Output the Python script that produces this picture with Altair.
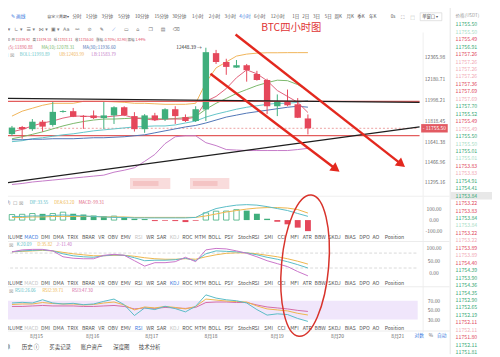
import altair as alt
import pandas as pd

W, H, OFF = 492, 349, 8
FONT = "Noto Sans CJK SC"
SYM = "DejaVu Sans"

GREEN = "#3fae7c"; RED = "#e5475b"
MA5_C = "#e0607a"; MA10_C = "#7ab86a"; MA30_C = "#4f74b6"
MID_C = "#62c4c8"; UB_C = "#f0b458"; LB_C = "#c479c8"
TEAL = "#58bcc6"; YEL = "#eeb54a"; PINK = "#d46aa6"
LINE_RED = "#e3281e"; BLUE = "#3d7be0"; GRAY = "#666666"; FADED = "#c4c4c4"
BUY = "#3aa876"; SELL = "#e04a5e"; BUY_F = "#a9dcc5"; SELL_F = "#f1aab6"

# ---------------- data ----------------
candle_idx = list(range(1, 31))
opens = [11705.7, 11767.3, 11748.0, 11812.0, 11784.2, 11896.0, 11902.2, 11861.0, 11866.0, 11843.2,
         11866.0, 11935.9, 11860.1, 11748.0, 11866.0, 11832.2, 11919.0, 11851.6, 11817.9, 11916.6,
         12399.7, 12323.8, 12275.7, 12296.0, 12220.0, 12169.5, 11944.4, 11986.5, 11961.3, 11839.92]
closes = [11761.4, 11748.0, 11812.0, 11769.8, 11896.3, 11904.0, 11854.2, 11853.0, 11843.2, 11866.0,
          11935.9, 11868.5, 11748.0, 11866.0, 11826.3, 11919.0, 11860.1, 11817.9, 11919.0, 12408.0,
          12323.8, 12281.7, 12296.0, 12253.8, 12169.5, 11944.4, 11986.5, 11952.8, 11845.7, 11755.50]
highs = [11775.7, 11775.7, 11834.8, 11826.3, 11986.5, 11910.7, 11930.0, 11868.5, 11908.2, 11986.5,
         11944.4, 11944.4, 11893.8, 11877.0, 11887.9, 11927.5, 11944.4, 11874.4, 11944.4, 12446.0,
         12427.5, 12351.6, 12340.7, 12307.0, 12248.0, 12180.5, 12045.6, 12087.7, 12014.4, 11874.10]
lows = [11691.4, 11666.1, 11733.6, 11725.1, 11769.8, 11889.6, 11851.6, 11750.5, 11834.8, 11750.5,
        11792.6, 11860.1, 11727.7, 11716.7, 11817.9, 11817.9, 11792.6, 11809.4, 11809.4, 11817.9,
        12307.0, 12214.0, 12273.2, 12155.2, 12163.6, 11877.0, 11860.1, 11944.4, 11843.2, 11703.11]

ma5 = [11725.1, 11746.2, 11775.7, 11801.0, 11817.9, 11843.2, 11860.1, 11860.1, 11855.8, 11851.6,
       11860.1, 11868.5, 11843.2, 11834.8, 11826.3, 11834.8, 11834.8, 11834.8, 11851.6, 11986.5,
       12028.7, 12096.1, 12188.9, 12256.4, 12222.6, 12163.6, 12079.3, 12028.7, 11978.1, 11890.88]
ma10 = [11666.1, 11683.0, 11704.0, 11725.1, 11750.4, 11775.7, 11796.8, 11813.7, 11826.3, 11834.8,
        11834.8, 11839.0, 11843.2, 11843.2, 11839.0, 11834.8, 11839.0, 11847.4, 11855.8, 11919.1,
        11969.7, 12011.8, 12054.0, 12087.7, 12121.4, 12146.7, 12167.8, 12163.6, 12129.9, 12078.31]
ma30 = [11657.7, 11657.7, 11661.9, 11661.9, 11666.1, 11666.1, 11666.1, 11670.3, 11674.5, 11674.5,
        11678.7, 11683.0, 11691.4, 11699.8, 11716.7, 11733.6, 11750.4, 11767.3, 11779.9, 11801.0,
        11826.3, 11851.6, 11868.5, 11885.3, 11898.0, 11910.7, 11923.3, 11935.9, 11944.4, 11936.60]
boll_mid = [11640.8, 11649.2, 11666.1, 11674.5, 11687.2, 11699.8, 11708.3, 11720.9, 11733.6, 11742.0,
            11750.4, 11758.9, 11767.3, 11771.5, 11775.7, 11775.7, 11784.2, 11801.0, 11817.9, 11851.6,
            11876.9, 11898.0, 11919.1, 11935.9, 11948.6, 11961.2, 11969.7, 11969.7, 11978.1, 11993.89]
boll_ub = [11860.1, 11902.2, 11927.5, 11952.8, 11969.7, 11969.7, 11969.7, 11986.5, 11986.5, 11986.5,
           11982.3, 11978.1, 11969.7, 11969.7, 11965.4, 11961.2, 11961.2, 11961.2, 11969.7, 12146.7,
           12273.2, 12323.8, 12374.4, 12391.3, 12399.7, 12403.0, 12403.0, 12404.0, 12404.0, 12403.99]
boll_lb = [11274.0, 11282.4, 11295.1, 11303.5, 11311.9, 11320.4, 11328.8, 11337.2, 11345.7, 11354.1,
           11379.4, 11396.3, 11417.3, 11472.1, 11531.2, 11623.9, 11683.0, 11691.4, 11691.4, 11632.4,
           11607.1, 11573.3, 11569.1, 11564.9, 11564.9, 11564.9, 11564.9, 11564.9, 11573.3, 11583.79]

price_ticks = [12365.98, 12180.71, 11998.21, 11818.45, 11641.38, 11466.96, 11295.16]
last_price = 11755.50
peak_label = "12448.39 →"

# drawn lines: (start index, start price, end index, end price)
arrow_upper = [22.91, 12559.9, 39.05, 11455.3]
arrow_lower = [20.45, 12222.6, 32.63, 11413.2]
trend_black = [0.34, 11286.7, 40.94, 11767.3]
flat_black = [0.34, 12011.8, 40.94, 11978.1]
flat_red_hi = [0.34, 11986.5, 40.94, 11986.5]
flat_red_lo = [0.34, 11693.0, 40.94, 11693.0]
line_end_idx = 40.75

macd_hist = [50, 52, 59, 56, 59, 71, 56, 50, 41, 35, 36, 27, 12, 9, -9, -6, -9, -18, -6, 65,
             80, 81, 94, 85, 56, 12, -15, -38, -68, -99.31]
dif = [32.7, 32.7, 37.2, 37.2, 41.6, 46.0, 41.6, 37.2, 32.7, 28.3, 23.9, 23.9, 19.5, 19.5, 19.5,
       19.5, 19.5, 19.5, 23.9, 68.1, 103.5, 121.2, 134.5, 138.9, 134.5, 121.2, 103.5, 85.8, 59.3, 33.55]
dea = [23.9, 23.9, 28.3, 28.3, 32.7, 32.7, 32.7, 32.7, 32.7, 28.3, 28.3, 28.3, 23.9, 23.9, 23.9,
       23.9, 23.9, 23.9, 23.9, 37.2, 54.9, 72.6, 85.8, 99.1, 108.0, 112.4, 112.4, 108.0, 94.7, 63.2]
macd_ticks = ["100.00", "0.00", "-100.00"]
macd_tick_vals = [100, 0, -100]

k_line = [85.0, 88.9, 90.9, 92.9, 88.9, 77.1, 69.2, 65.2, 63.2, 69.2, 73.1, 71.1, 61.3, 49.4, 51.4,
          51.4, 53.4, 59.3, 49.4, 77.1, 88.9, 87.0, 85.0, 81.0, 73.1, 63.2, 55.3, 45.5, 33.6, 20.09]
d_line = [85.0, 87.0, 88.9, 90.9, 88.9, 83.0, 77.1, 73.1, 69.2, 69.2, 71.1, 71.1, 67.2, 61.3, 57.3,
          55.3, 55.3, 57.3, 55.3, 65.2, 73.1, 79.1, 81.0, 81.0, 77.1, 71.1, 65.2, 57.3, 47.4, 35.82]
j_line = [85.0, 92.9, 94.9, 94.9, 88.9, 65.2, 59.3, 57.3, 57.3, 71.1, 75.1, 71.1, 49.4, 27.7, 41.5,
          41.5, 45.5, 63.2, 45.5, 92.9, 98.8, 96.8, 88.9, 79.1, 65.2, 49.4, 37.5, 25.7, 5.9, -11.4]
kdj_ticks = ["100.00", "50.00", "0.00"]
kdj_tick_vals = [100, 50, 0]
kdj_guides = [80, 20]

rsi1 = [65.4, 66.8, 65.4, 72.3, 65.4, 63.3, 64.7, 61.8, 63.3, 68.9, 73.8, 61.8, 38.6, 54.8, 51.3,
        58.4, 53.4, 46.4, 58.4, 82.8, 75.9, 72.3, 70.2, 65.4, 51.3, 39.5, 42.2, 40.7, 32.3, 26.06]
rsi2 = [62.2, 63.3, 63.3, 66.4, 64.3, 63.3, 63.3, 61.2, 62.2, 65.4, 67.5, 61.2, 50.6, 56.9, 54.8,
        58.0, 55.9, 52.7, 58.0, 73.8, 71.7, 69.6, 68.5, 67.5, 59.1, 52.7, 50.6, 48.5, 43.3, 39.71]
rsi3 = [58.0, 58.0, 59.1, 60.1, 59.1, 59.1, 59.1, 58.0, 58.0, 59.1, 60.1, 58.0, 52.7, 54.8, 53.8,
        55.9, 54.8, 53.8, 55.9, 66.4, 67.5, 67.5, 66.4, 66.4, 61.2, 56.9, 54.8, 52.7, 49.6, 47.3]
rsi_ticks = ["70.00", "50.00", "30.00"]
rsi_tick_vals = [70, 50, 30]
rsi_band = [30, 70]

date_labels = ["8月15", "8月16", "8月17", "8月18", "8月19", "8月20", "8月21"]
date_pos = [3.4, 8.9, 14.7, 20.5, 27.0, 32.9, 38.8]

book_prices = [11755.50, 11755.50, 11755.49, 11756.91, 11757.26, 11757.26, 11757.26, 11757.26,
               11757.36, 11757.69, 11757.69, 11757.70, 11755.52, 11755.49, 11755.49, 11755.50,
               11755.50, 11755.01, 11755.01, 11753.83, 11753.83, 11754.91, 11754.41, 11753.84,
               11753.22, 11753.83, 11753.84, 11753.84, 11753.22, 11753.22, 11753.89, 11753.89,
               11754.40, 11754.39, 11753.90, 11754.36, 11754.35, 11752.90, 11752.65, 11752.19,
               11752.11, 11752.11, 11751.80, 11752.11, 11751.81]
book_sides = list("BBSBSSSSSSSBBSSBBBBSSBBBSSBBSSSSSBBBBBBBSSSBB")
book_current_row = 24

tabs = ["VOLUME", "MACD", "DMI", "DMA", "TRIX", "BRAR", "VR", "OBV", "EMV", "RSI", "WR", "SAR",
        "KDJ", "ROC", "MTM", "BOLL", "PSY", "StochRSI", "SMI", "CCI", "MFI", "ATR", "BBW", "SKDJ",
        "BIAS", "DPO", "AO", "Position"]

# ---------------- scales ----------------
per = 29 / (314.1 - 7)


def idx_of(page_x):
    return 1 + (page_x - 7) * per


XS = alt.Scale(domain=[idx_of(OFF), idx_of(OFF + W)], nice=False, zero=False)


def ydom(v_a, py_a, v_b, py_b):
    k = (v_b - v_a) / (py_b - py_a)
    return alt.Scale(domain=[v_a + (OFF + H - py_a) * k, v_a + (OFF - py_a) * k], nice=False, zero=False)


PS = ydom(12365.98, 55, 11295.16, 182)
MS = ydom(100, 209.4, -100, 232)
KS = ydom(100, 249.2, 0, 274.5)
RS = ydom(70, 302.8, 30, 321.8)
BS = ydom(1, 21.7, 45, 355)


def X(f):
    return alt.X(f"{f}:Q", scale=XS, axis=None)


def Y(f, s):
    return alt.Y(f"{f}:Q", scale=s, axis=None)


EMPTY = alt.Data(values=[{}])
L = []


def T(text, x, y, color=GRAY, size=4.8, align="left", font=FONT, weight="normal"):
    L.append(alt.Chart(EMPTY).mark_text(text=text, align=align, baseline="middle", fontSize=size,
                                         font=font, color=color, fontWeight=weight)
             .encode(x=alt.value(x - OFF), y=alt.value(y - OFF)))


def HR(y, x0, x1, color="#ececec", width=1):
    L.append(alt.Chart(EMPTY).mark_rule(color=color, strokeWidth=width)
             .encode(x=alt.value(x0 - OFF), x2=alt.value(x1 - OFF), y=alt.value(y - OFF)))


def VR(x, y0, y1, color="#ececec", width=1):
    L.append(alt.Chart(EMPTY).mark_rule(color=color, strokeWidth=width)
             .encode(x=alt.value(x - OFF), y=alt.value(y0 - OFF), y2=alt.value(y1 - OFF)))


def series(vals, scale, color, width=1.0):
    df = pd.DataFrame({"i": candle_idx, "v": vals})
    L.append(alt.Chart(df).mark_line(color=color, strokeWidth=width).encode(x=X("i"), y=Y("v", scale)))


def seg(s, scale, color, width, dash=None):
    df = pd.DataFrame({"i": [s[0], s[2]], "v": [s[1], s[3]]})
    kw = dict(color=color, strokeWidth=width)
    if dash:
        kw["strokeDash"] = dash
    L.append(alt.Chart(df).mark_line(**kw).encode(x=X("i"), y=Y("v", scale)))


# ---------------- panel frames ----------------
VR(430, 30, 335, "#efefef")
VR(457.5, 0, 357, "#e4e4e4")
HR(196.5, 0, 457, "#efefef")
HR(242.5, 0, 457, "#ececec")
HR(288.5, 0, 457, "#ececec")
HR(333.5, 0, 457, "#ececec")

# RSI band
band_df = pd.DataFrame({"i0": [idx_of(0)], "i1": [idx_of(428)], "lo": [rsi_band[0]], "hi": [rsi_band[1]]})
L.append(alt.Chart(band_df).mark_rect(color="#f0e6fb").encode(
    x=X("i0"), x2="i1", y=Y("lo", RS), y2="hi"))

# KDJ dashed guides
gdf = pd.DataFrame({"i0": [idx_of(0)] * 2, "i1": [idx_of(428)] * 2, "v": kdj_guides})
L.append(alt.Chart(gdf).mark_rule(color="#d0d0d0", strokeDash=[3, 2], strokeWidth=0.8).encode(
    x=X("i0"), x2="i1", y=Y("v", KS)))

# blurred watermark patches
for x0, x1 in [(132, 173), (193, 233)]:
    L.append(alt.Chart(EMPTY).mark_rect(color="#f9dcdc").encode(
        x=alt.value(x0 - OFF), x2=alt.value(x1 - OFF), y=alt.value(178 - OFF), y2=alt.value(189 - OFF)))
    L.append(alt.Chart(EMPTY).mark_rect(color="#f4c4c4").encode(
        x=alt.value(x0 + 3 - OFF), x2=alt.value(x1 - 12 - OFF), y=alt.value(181 - OFF), y2=alt.value(186 - OFF)))

# ---------------- main panel ----------------
seg(flat_red_lo, PS, "#e35d5d", 1.3)
seg([flat_red_lo[0], last_price, line_end_idx, last_price], PS, "#e88a8a", 0.8, [2, 2])

series(boll_ub, PS, UB_C)
series(boll_lb, PS, LB_C)
series(boll_mid, PS, MID_C)
series(ma30, PS, MA30_C)
series(ma10, PS, MA10_C)
series(ma5, PS, MA5_C)

cdf = pd.DataFrame({"i": candle_idx, "o": opens, "h": highs, "l": lows, "c": closes})
for part, colr in [(cdf[cdf.c >= cdf.o], GREEN), (cdf[cdf.c < cdf.o], RED)]:
    L.append(alt.Chart(part).mark_rule(color=colr, strokeWidth=1).encode(x=X("i"), y=Y("l", PS), y2="h"))
    L.append(alt.Chart(part).mark_bar(color=colr, size=6.5).encode(x=X("i"), y=Y("o", PS), y2="c"))

seg(flat_red_hi, PS, "#e35d5d", 1.3)
seg(flat_black, PS, "#1e1e1e", 1.4)
seg(trend_black, PS, "#1e1e1e", 1.4)
seg(arrow_upper, PS, LINE_RED, 2.4)
seg(arrow_lower, PS, LINE_RED, 2.4)
adf = pd.DataFrame({"i": [arrow_upper[2]], "v": [arrow_upper[3]]})
L.append(alt.Chart(adf).mark_point(shape="triangle", filled=True, size=110, angle=127.6, color=LINE_RED,
                                   opacity=1).encode(x=X("i"), y=Y("v", PS)))
adf2 = pd.DataFrame({"i": [arrow_lower[2]], "v": [arrow_lower[3]]})
L.append(alt.Chart(adf2).mark_point(shape="triangle", filled=True, size=110, angle=126.6, color=LINE_RED,
                                    opacity=1).encode(x=X("i"), y=Y("v", PS)))

# peak label
pk = pd.DataFrame({"i": [19.6], "v": [highs[19]], "t": [peak_label]})
L.append(alt.Chart(pk).mark_text(align="right", baseline="middle", fontSize=4.8, font=FONT, color="#333")
         .encode(x=X("i"), y=Y("v", PS), text="t:N"))

# price axis labels
ptdf = pd.DataFrame({"v": price_ticks, "t": [f"{p:.2f}" for p in price_ticks]})
L.append(alt.Chart(ptdf).mark_text(align="center", baseline="middle", fontSize=5, font=FONT, color=GRAY)
         .encode(x=alt.value(442 - OFF), y=Y("v", PS), text="t:N"))
lp = pd.DataFrame({"hi": [last_price + 36], "lo": [last_price - 36], "v": [last_price],
                   "t": [f"- {last_price:.2f}"]})
L.append(alt.Chart(lp).mark_rect(color="#e25a62").encode(
    x=alt.value(428 - OFF), x2=alt.value(455 - OFF), y=Y("hi", PS), y2="lo"))
L.append(alt.Chart(lp).mark_text(align="center", baseline="middle", fontSize=5, font=FONT, color="white")
         .encode(x=alt.value(441.5 - OFF), y=Y("v", PS), text="t:N"))

# ---------------- MACD panel ----------------
mdf = pd.DataFrame({"i": candle_idx, "v": macd_hist})
prev = [None] + macd_hist[:-1]
mdf["kind"] = ["hollow" if v > 0 and (p is None or v > p) else ("pos" if v > 0 else "neg")
               for v, p in zip(macd_hist, prev)]
L.append(alt.Chart(mdf[mdf.kind == "pos"]).mark_bar(color=GREEN, size=6)
         .encode(x=X("i"), y=Y("v", MS), y2=alt.datum(0)))
L.append(alt.Chart(mdf[mdf.kind == "neg"]).mark_bar(color=RED, size=6)
         .encode(x=X("i"), y=Y("v", MS), y2=alt.datum(0)))
L.append(alt.Chart(mdf[mdf.kind == "hollow"]).mark_bar(fill="white", stroke=GREEN, strokeWidth=0.8, size=5.5)
         .encode(x=X("i"), y=Y("v", MS), y2=alt.datum(0)))
series(dea, MS, YEL)
series(dif, MS, TEAL)
mt = pd.DataFrame({"v": macd_tick_vals, "t": macd_ticks})
L.append(alt.Chart(mt).mark_text(align="center", baseline="middle", fontSize=5, font=FONT, color=GRAY)
         .encode(x=alt.value(441 - OFF), y=Y("v", MS), text="t:N"))

# ---------------- KDJ panel ----------------
series(d_line, KS, YEL)
series(k_line, KS, TEAL)
series(j_line, KS, "#c973c9")
kt = pd.DataFrame({"v": kdj_tick_vals, "t": kdj_ticks})
L.append(alt.Chart(kt).mark_text(align="center", baseline="middle", fontSize=5, font=FONT, color=GRAY)
         .encode(x=alt.value(441 - OFF), y=Y("v", KS), text="t:N"))

# ---------------- RSI panel ----------------
series(rsi3, RS, PINK)
series(rsi2, RS, YEL)
series(rsi1, RS, TEAL)
rt = pd.DataFrame({"v": rsi_tick_vals, "t": rsi_ticks})
L.append(alt.Chart(rt).mark_text(align="center", baseline="middle", fontSize=5, font=FONT, color=GRAY)
         .encode(x=alt.value(441 - OFF), y=Y("v", RS), text="t:N"))

# ---------------- indicator tab rows ----------------
centers = []
c = 27 - (len(tabs[0]) + len(tabs[1])) / 2 * 2.9 - 4.68
for n, t in enumerate(tabs):
    if n > 0:
        c += (len(tabs[n - 1]) + len(t)) / 2 * 2.9 + 4.68
    centers.append(idx_of(c))
rows = [(237.7, "MACD", ["RSI", "KDJ"]), (284.2, "KDJ", ["MACD"]), (330.0, "RSI", ["MACD", "KDJ"])]
for ry, active, faded in rows:
    tdf = pd.DataFrame({"i": centers, "t": tabs})
    tdf["st"] = ["a" if t == active else ("f" if t in faded else "n") for t in tabs]
    for st, colr in [("n", "#555555"), ("f", FADED), ("a", BLUE)]:
        L.append(alt.Chart(tdf[tdf.st == st]).mark_text(align="center", baseline="middle", fontSize=5.2,
                                                       font=FONT, color=colr)
                 .encode(x=X("i"), y=alt.value(ry - OFF), text="t:N"))

# dates
ddf = pd.DataFrame({"i": date_pos, "t": date_labels})
L.append(alt.Chart(ddf).mark_text(align="center", baseline="middle", fontSize=5, font=FONT, color=GRAY)
         .encode(x=X("i"), y=alt.value(338.5 - OFF), text="t:N"))

# ---------------- order book ----------------
bdf = pd.DataFrame({"r": list(range(1, len(book_prices) + 1)), "p": book_prices, "s": book_sides})
bdf["t"] = [f"{p:.2f}" for p in book_prices]
bdf["fade"] = [n > 0 and book_prices[n] == book_prices[n - 1] for n in range(len(book_prices))]
hl = pd.DataFrame({"lo": [book_current_row - 0.5], "hi": [book_current_row + 0.5]})
L.append(alt.Chart(hl).mark_rect(color="#e8e8e8").encode(
    x=alt.value(458 - OFF), x2=alt.value(W), y=Y("lo", BS), y2="hi"))
for side, fade, colr in [("B", False, BUY), ("B", True, BUY_F), ("S", False, SELL), ("S", True, SELL_F)]:
    part = bdf[(bdf.s == side) & (bdf.fade == fade)]
    L.append(alt.Chart(part).mark_text(align="left", baseline="middle", fontSize=5.3, font=FONT, color=colr)
             .encode(x=alt.value(463 - OFF), y=Y("r", BS), text="t:N"))
T("价格(USDT)", 463, 12.8, "#999999", 4.6)

# ---------------- toolbar & legends ----------------
T("✎ 画线", 11, 14, BLUE, 4.8)
T("自定义周期▾", 48, 14, "#555555", 4.0)
for label, x in [("分时", 73.5), ("1分钟", 87), ("3分钟", 103), ("5分钟", 120), ("10分钟", 137),
                 ("15分钟", 157), ("30分钟", 175), ("1小时", 195), ("2小时", 212), ("3小时", 228),
                 ("6小时", 258), ("12小时", 275), ("1日", 297), ("2日", 307), ("3日", 318), ("5日", 330),
                 ("周K", 340), ("月K", 352), ("季K", 363), ("年K", 375), ("0s", 397)]:
    T(label, x, 14, "#555555", 4.6)
T("4小时", 243, 14, BLUE, 4.6)
T("⛶", 407, 14, "#777777", 5, font=SYM)
T("⬚", 417, 14, "#777777", 5, font=SYM)
L.append(alt.Chart(EMPTY).mark_rect(fill="white", stroke="#cfcfcf", strokeWidth=0.6).encode(
    x=alt.value(427 - OFF), x2=alt.value(449 - OFF), y=alt.value(10 - OFF), y2=alt.value(18 - OFF)))
T("单窗口 ▾", 429, 14, "#555555", 4.4)

icons = ["✕", "∟", "☰", "⋈", "▣", "Aa", "⚯", "⊘", "✎", "⟋", "▭", "⌂", "❐", "▤", "⌫"]
for n, ic in enumerate(icons):
    T(ic + (" ▾" if n < 5 else ""), 2 + 12.4 * n, 27, BLUE if n == 9 else "#777777", 5, font=SYM)

T("12:00", 10, 38, "#555555", 3.8, align="right")
for label, x, colr in [("开", 11.5, "#555555"), ("11839.92", 15.5, SELL), ("高", 33, "#555555"),
                       ("11874.10", 37, SELL), ("低", 54.5, "#555555"), ("11703.11", 58.5, SELL),
                       ("收", 76, "#555555"), ("11755.50", 80, SELL), ("涨幅", 97.5, "#555555"),
                       ("-0.70%(-82.98)", 105, SELL), ("振幅", 129.5, "#555555"), ("1.44%", 137.5, SELL)]:
    T(label, x, 38, colr, 3.6)
T("MA(5):11890.88", 2, 45.5, MA5_C, 4.4)
T("MA(10):12078.31", 42, 45.5, MA10_C, 4.4)
T("MA(30):11936.60", 84, 45.5, MA30_C, 4.4)
T("☐ ☒", 4, 53, "#888888", 5, font=SYM)
T("BOLL:11993.89", 20, 53, MID_C, 4.4)
T("UB:12403.99", 60, 53, UB_C, 4.4)
T("LB:11583.79", 93, 53, LB_C, 4.4)

T("BTC四小时图", 296, 25, "#e03535", 10.5, align="center")

T("(12,26,9)", 10.5, 203.5, GRAY, 4.4, align="right")
T("☐ ☒", 13, 203.5, "#888888", 5, font=SYM)
T("DIF:33.55", 30, 203.5, TEAL, 4.4)
T("DEA:63.20", 55, 203.5, YEL, 4.4)
T("MACD:-99.31", 80, 203.5, MA5_C, 4.4)

T("☐ ☒", 3, 246.5, "#888888", 5, font=SYM)
T("K:20.09", 17, 246.5, TEAL, 4.4)
T("D:35.82", 38, 246.5, YEL, 4.4)
T("J:-11.40", 57, 246.5, "#c973c9", 4.4)

T("☐ ☒", 3, 292.5, "#888888", 5, font=SYM)
T("RSI1:26.06", 15, 292.5, TEAL, 4.4)
T("RSI2:39.71", 43, 292.5, YEL, 4.4)
T("RSI3:47.30", 73, 292.5, PINK, 4.4)

T("对数", 426, 338.5, BLUE, 4.8, align="center")
T("%", 438, 338.5, GRAY, 4.8, align="center")
T("自动", 449, 338.5, BLUE, 4.8, align="center")

T("计划单", 10.5, 350, "#444444", 5.5, align="right")
T("历史 ⓘ", 22, 350, "#444444", 5.5)
T("买卖记录", 50, 350, "#444444", 5.5)
T("账户资产", 82, 350, "#444444", 5.5)
T("深度图", 115, 350, "#444444", 5.5)
T("技术分析", 141, 350, "#444444", 5.5)

# annotation ellipse
ell = "M0,-1 A0.333,1 0 1,1 0,1 A0.333,1 0 1,1 0,-1 Z"
L.append(alt.Chart(EMPTY).mark_point(shape=ell, size=20736, filled=False, color="#d8332b", strokeWidth=1.5,
                                     opacity=1, angle=5)
         .encode(x=alt.value(310 - OFF), y=alt.value(267 - OFF)))

chart = (alt.layer(*L)
         .resolve_scale(y="independent")
         .properties(width=W, height=H, padding=0, autosize=alt.AutoSizeParams(type="none"),
                     background="white")
         .configure_view(strokeWidth=0))

chart.save("out.html", embed_options={"renderer": "svg", "actions": False})
